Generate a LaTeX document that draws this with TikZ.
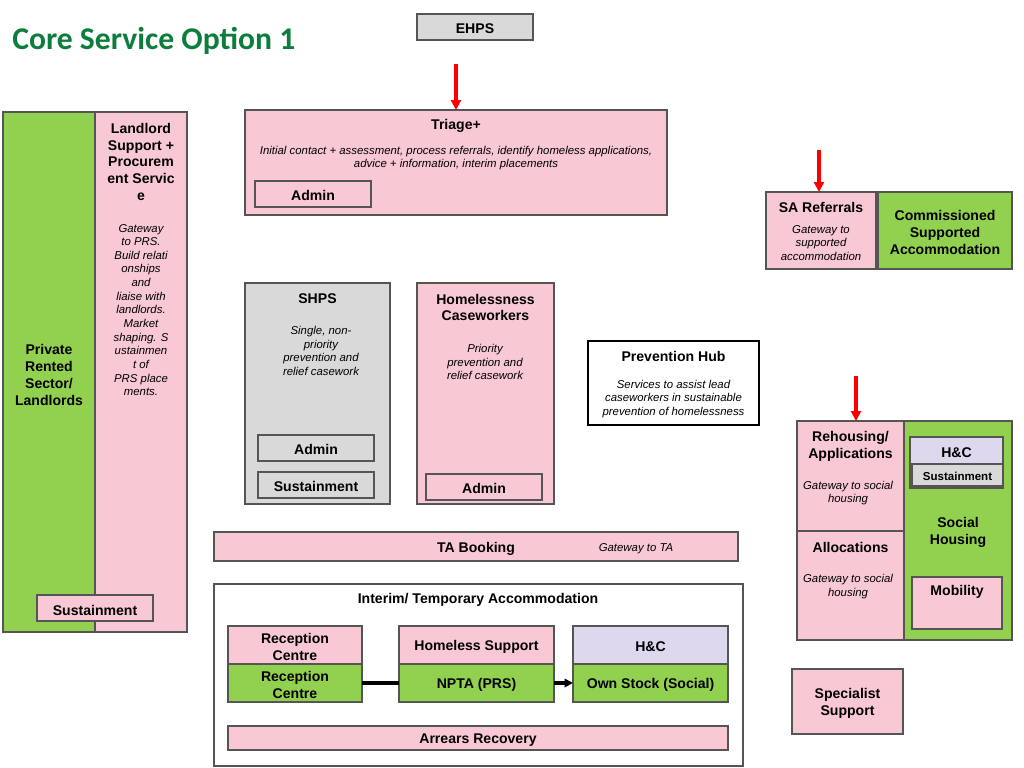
\documentclass[tikz,border=0pt]{standalone}
\usepackage{fontspec}
\setmainfont{Liberation Sans}
\newfontfamily\titlefont{Carlito}
\usetikzlibrary{arrows.meta,positioning,fit}
\definecolor{boxpink}{RGB}{248,200,212}
\definecolor{boxgreen}{RGB}{146,208,80}
\definecolor{boxgray}{RGB}{217,217,217}
\definecolor{boxlilac}{RGB}{221,216,238}
\definecolor{titlegreen}{RGB}{12,125,60}
\definecolor{edgegray}{RGB}{85,85,85}

\begin{document}
\begin{tikzpicture}[x=0.025cm, y=-0.025cm,
  box/.style={draw=edgegray, line width=1pt, inner sep=0pt, outer sep=0pt},
  pinkbox/.style={box, fill=boxpink},
  greenbox/.style={box, fill=boxgreen},
  graybox/.style={box, fill=boxgray},
  lilacbox/.style={box, fill=boxlilac},
  head/.style={font=\bfseries\fontsize{10}{12}\selectfont, align=center, inner sep=0pt, yshift=-1.4pt},
  small/.style={font=\bfseries\fontsize{8.2}{10}\selectfont, align=center, inner sep=0pt, yshift=-0.7pt},
  note/.style={font=\itshape\fontsize{8.1}{9.7}\selectfont, align=center, inner sep=0pt, yshift=-1.4pt},
  feed/.style={draw=red, line width=2.4pt, -{Triangle[length=7pt,width=7pt]}},
  link/.style={draw=black, line width=2.4pt},
]
\useasboundingbox (0,0) rectangle (1024,768);

% Title
\node[font=\titlefont\bfseries\fontsize{22.5}{26}\selectfont, text=titlegreen,
      anchor=west, inner sep=0pt] (title) at (12,41) {Core Service Option 1};

% Entry points
\node[graybox, fit={(417,14) (533,40)}, label={[head]center:EHPS}] (ehps) {};
\node[pinkbox, fit={(245,110) (667,215)}] (triage) {};
\node[head] (triagehead) at (456,124) {Triage+};
\node[note] (triagenote) at (456,156) {Initial contact + assessment, process referrals, identify homeless applications,\\advice + information, interim placements};
\node[pinkbox, fit={(255,181) (371,207)}, label={[head]center:Admin}] (triageadmin) {};

% Private rented sector
\node[greenbox, fit={(3,112) (95,632)}] (prs) {};
\node[head] (prshead) at (49,373) {Private\\Rented\\Sector/\\Landlords};
\node[pinkbox, fit={(95,112) (187,632)}] (landlord) {};
\node[head] (landlordhead) at (141,160) {Landlord\\Support +\\Procurem\\ent Servic\\e};
\node[note] (landlordnote) at (141,308) {Gateway\\to PRS.\\Build relati\\onships\\and\\liaise with\\landlords.\\Market\\shaping. S\\ustainmen\\t of\\PRS place\\ments.};
\node[pinkbox, fit={(37,595) (153,621)}, label={[head]center:Sustainment}] (prssust) {};

% Supported accommodation
\node[pinkbox, fit={(766,192) (876,269)}] (sa) {};
\node[head] (sahead) at (821,206) {SA Referrals};
\node[note] (sanote) at (821,241) {Gateway to\\supported\\accommodation};
\node[greenbox, fit={(878,192) (1012,269)}, label={[head]center:{Commissioned\\Supported\\Accommodation}}] (csa) {};

% Casework
\node[graybox, fit={(245,283) (390,504)}] (shps) {};
\node[head] (shpshead) at (317.5,297) {SHPS};
\node[note] (shpsnote) at (321,349) {Single, non-\\priority\\prevention and\\relief casework};
\node[graybox, fit={(258,435) (374,461)}, label={[head]center:Admin}] (shpsadmin) {};
\node[graybox, fit={(258,472) (374,498)}, label={[head]center:Sustainment}] (shpssust) {};

\node[pinkbox, fit={(417,283) (554,504)}] (hcw) {};
\node[head] (hcwhead) at (485.5,305.5) {Homelessness\\Caseworkers};
\node[note] (hcwnote) at (485,360) {Priority\\prevention and\\relief casework};
\node[pinkbox, fit={(426,474) (542,500)}, label={[head]center:Admin}] (hcwadmin) {};

\node[box, draw=black, line width=2pt, fill=white, fit={(588,341) (759,425)}] (hub) {};
\node[head] (hubhead) at (673.5,355) {Prevention Hub};
\node[note] (hubnote) at (673.5,397) {Services to assist lead\\caseworkers in sustainable\\prevention of homelessness};

% Social housing
\node[pinkbox, fit={(797,421) (904,531)}] (rehousing) {};
\node[head] (rehousinghead) at (850.5,444.5) {Rehousing/\\Applications};
\node[note] (rehousingnote) at (848,491) {Gateway to social\\housing};
\node[pinkbox, fit={(797,531) (904,640)}] (alloc) {};
\node[head] (allochead) at (850.5,545) {Allocations};
\node[note] (allocnote) at (848,584.5) {Gateway to social\\housing};

\node[greenbox, fit={(904,421) (1012,640)}] (social) {};
\node[lilacbox, fit={(910,437) (1003,488)}] (shhc) {};
\node[head] (shhchead) at (956.5,451) {H\&C};
\node[graybox, fit={(912,464) (1003,486)}, label={[small]center:Sustainment}] (shsust) {};
\node[head] (socialhead) at (958,530.5) {Social\\Housing};
\node[pinkbox, fit={(912,577) (1002,629)}] (mobility) {};
\node[head] (mobilityhead) at (957,590) {Mobility};

\node[pinkbox, fit={(792,669) (903,734)}, label={[head]center:{Specialist\\Support}}] (specialist) {};

% Temporary accommodation
\node[pinkbox, fit={(214,532) (738,561)}] (ta) {};
\node[head] (tahead) at (476,547) {TA Booking};
\node[note] (tanote) at (636,547) {Gateway to TA};

\node[box, fill=white, fit={(214,584) (743,766)}] (interim) {};
\node[head] (interimhead) at (478,598) {Interim/ Temporary Accommodation};
\node[pinkbox, fit={(228,626) (362,664)}, label={[head]center:{Reception\\Centre}}] (recpink) {};
\node[greenbox, fit={(228,664) (362,702)}, label={[head]center:{Reception\\Centre}}] (recgreen) {};
\node[pinkbox, fit={(399,626) (554,664)}, label={[head]center:Homeless Support}] (hsupport) {};
\node[greenbox, fit={(399,664) (554,702)}, label={[head]center:NPTA (PRS)}] (npta) {};
\node[lilacbox, fit={(573,626) (728,664)}, label={[head]center:H\&C}] (tahc) {};
\node[greenbox, fit={(573,664) (728,702)}, label={[head]center:Own Stock (Social)}] (ownstock) {};
\node[pinkbox, fit={(228,726) (728,750)}, label={[head]center:Arrears Recovery}] (arrears) {};

% Connectors
\coordinate (triagefeed) at (456,64);
\coordinate (safeed) at (819,150);
\coordinate (rehousingfeed) at (856,376);
\draw[feed] (triagefeed) -- (triage.north);
\draw[feed] (safeed) -- (safeed |- sa.north);
\draw[feed] (rehousingfeed) -- (rehousingfeed |- rehousing.north);
\draw[link] (recgreen) -- (npta);
\draw[link, -{Triangle[length=6pt,width=6pt]}] (npta) -- (ownstock);
\end{tikzpicture}
\end{document}
